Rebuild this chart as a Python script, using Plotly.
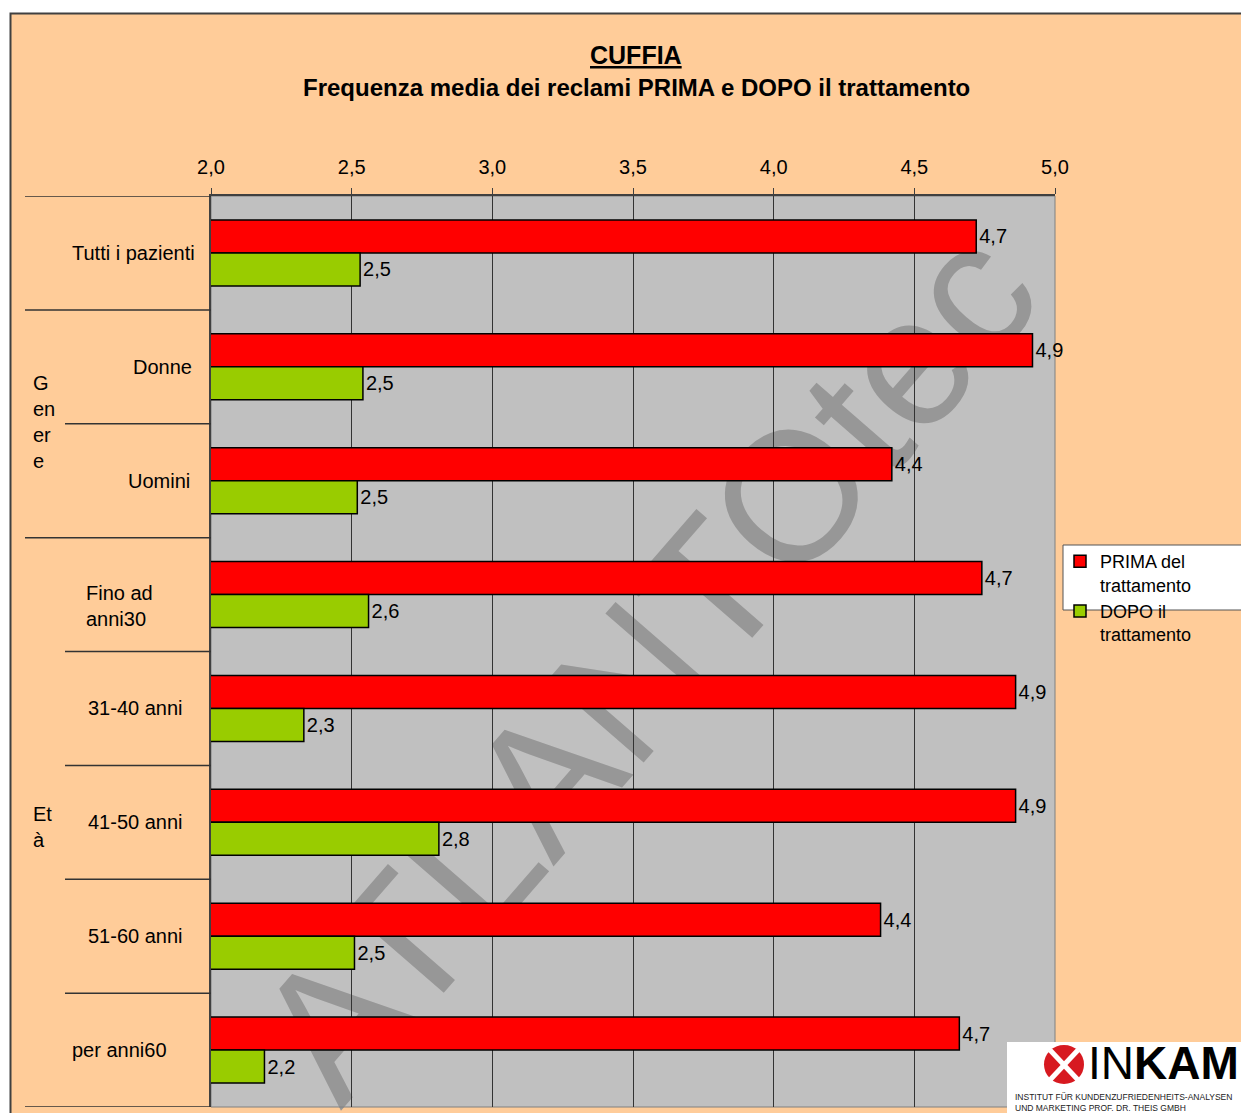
import plotly.graph_objects as go

# ---------------- data ----------------
categories = ["Tutti i pazienti", "Donne", "Uomini", "Fino ad anni30",
              "31-40 anni", "41-50 anni", "51-60 anni", "per anni60"]
category_labels = ["Tutti i pazienti", "Donne", "Uomini", "Fino ad<br>anni30",
                   "31-40 anni", "41-50 anni", "51-60 anni", "per anni60"]
prima = [4.72, 4.92, 4.42, 4.74, 4.86, 4.86, 4.38, 4.66]
dopo = [2.53, 2.54, 2.52, 2.56, 2.33, 2.81, 2.51, 2.19]
series_names = ["PRIMA del<br>trattamento", "DOPO il<br>trattamento"]
tick_values = [2.0, 2.5, 3.0, 3.5, 4.0, 4.5, 5.0]
group_labels = ["G<br>en<br>er<br>e", "Et<br>à"]
title_text = "CUFFIA"
subtitle_text = "Frequenza media dei reclami PRIMA e DOPO il trattamento"
watermark_text = "ATLANTOtec"

# ---------------- geometry helpers (page pixel -> paper) ----------------
BODY = 8                      # default page margin around the plot div
PAGE_W, PAGE_H = 1249, 1113
W, H = PAGE_W - BODY, PAGE_H - BODY
PL, PR, PT, PB = 211, 1055, 196, 1107   # plot area in page pixels


def px(x):
    return (x - PL) / (PR - PL)


def py(y):
    return (PB - y) / (PB - PT)


FONT = "Liberation Sans, Arial, sans-serif"
ORANGE = "#FFCC99"
GRAY_BG = "#C0C0C0"
RED = "#FF0000"
GREEN = "#99CC00"
DARK = "#333333"

fig = go.Figure()
fig.add_trace(go.Bar(
    y=categories, x=prima, orientation="h", name=series_names[0],
    marker=dict(color=RED, line=dict(color="black", width=1.5)),
    texttemplate="%{x:.1f}", textposition="outside", cliponaxis=False,
    constraintext="none", textfont=dict(size=20, color="black", family=FONT),
))
fig.add_trace(go.Bar(
    y=categories, x=dopo, orientation="h", name=series_names[1],
    marker=dict(color=GREEN, line=dict(color="black", width=1.5)),
    texttemplate="%{x:.1f}", textposition="outside", cliponaxis=False,
    constraintext="none", textfont=dict(size=20, color="black", family=FONT),
))

shapes = []
# watermark below everything inside the plot
shapes.append(dict(
    type="rect", xref="paper", yref="paper", x0=0, x1=1, y0=0, y1=1,
    line=dict(width=0), fillcolor="rgba(0,0,0,0)", layer="below",
    label=dict(text=watermark_text, textangle=-49, textposition="middle center",
               font=dict(size=184, color="#979797", family=FONT)),
))
# plot area border (right/bottom in gray)
shapes.append(dict(type="rect", xref="paper", yref="paper", x0=0, x1=1, y0=0, y1=1,
                   line=dict(color="#808080", width=1), fillcolor="rgba(0,0,0,0)", layer="below"))
# left-column separators
full_boundaries = [-0.5, 0.5, 2.5, 7.5]
inner_boundaries = [1.5, 3.5, 4.5, 5.5, 6.5]
for b in full_boundaries:
    shapes.append(dict(type="line", xref="paper", yref="y", x0=px(25), x1=0, y0=b, y1=b,
                       line=dict(color=DARK, width=1.5), layer="above"))
for b in inner_boundaries:
    shapes.append(dict(type="line", xref="paper", yref="y", x0=px(65), x1=0, y0=b, y1=b,
                       line=dict(color=DARK, width=1.5), layer="above"))
# legend white box
shapes.append(dict(type="rect", xref="paper", yref="paper", x0=px(1063), x1=px(1265),
                   y0=py(610), y1=py(545), fillcolor="white",
                   line=dict(color="#555555", width=1), layer="below"))
# white page strips outside the orange frame
shapes.append(dict(type="rect", xref="paper", yref="paper", x0=px(-5), x1=px(1260),
                   y0=py(13), y1=py(-5), fillcolor="white", line=dict(width=0), layer="above"))
shapes.append(dict(type="rect", xref="paper", yref="paper", x0=px(-5), x1=px(10),
                   y0=py(1120), y1=py(-5), fillcolor="white", line=dict(width=0), layer="above"))
# frame border
shapes.append(dict(type="rect", xref="paper", yref="paper", x0=px(10.5), x1=px(1275),
                   y0=py(1130), y1=py(13.5), fillcolor="rgba(0,0,0,0)",
                   line=dict(color="#404040", width=2), layer="above"))
# INKAM logo box
shapes.append(dict(type="rect", xref="paper", yref="paper", x0=px(1007), x1=px(1260),
                   y0=py(1120), y1=py(1042), fillcolor="white", line=dict(width=0), layer="above"))
shapes.append(dict(type="circle", xref="paper", yref="paper", x0=px(1044), x1=px(1084),
                   y0=py(1084), y1=py(1045), fillcolor="#D71920", line=dict(width=0), layer="above"))
shapes.append(dict(type="line", xref="paper", yref="paper", x0=px(1050), x1=px(1078),
                   y0=py(1050), y1=py(1080), line=dict(color="white", width=5), layer="above"))
shapes.append(dict(type="line", xref="paper", yref="paper", x0=px(1078), x1=px(1050),
                   y0=py(1050), y1=py(1080), line=dict(color="white", width=5), layer="above"))

annotations = []
# titles
annotations.append(dict(text="<b><u>" + title_text + "</u></b>", xref="paper", yref="paper",
                        x=px(636), y=py(55), xanchor="center", yanchor="middle", showarrow=False,
                        font=dict(size=25, color="black", family=FONT)))
annotations.append(dict(text="<b>" + subtitle_text + "</b>", xref="paper", yref="paper",
                        x=px(636), y=py(87), xanchor="center", yanchor="middle", showarrow=False,
                        font=dict(size=24, color="black", family=FONT)))
# category labels
label_left = [70, 131, 126, 84, 86, 86, 86, 70]
label_shift = [0, 0, 0, -11, 0, 0, 0, 0]
for cat, lab, lx, ls in zip(categories, category_labels, label_left, label_shift):
    annotations.append(dict(text=lab, xref="paper", yref="y", x=px(lx), y=cat, yshift=ls,
                            xanchor="left", yanchor="middle", align="left", showarrow=False,
                            font=dict(size=20, color="black", family=FONT)))
# group labels
group_pos = [1.5, 5.0]
group_shift = [2, -5]
for lab, gy, gs in zip(group_labels, group_pos, group_shift):
    annotations.append(dict(text=lab, xref="paper", yref="y", x=px(31), y=gy, yshift=gs,
                            xanchor="left", yanchor="middle", align="left", showarrow=False,
                            font=dict(size=20, color="black", family=FONT)))
# INKAM logo text
annotations.append(dict(text="IN<b>KAM</b>", xref="paper", yref="paper", x=px(1086), y=py(1063),
                        xanchor="left", yanchor="middle", showarrow=False,
                        font=dict(size=46, color="black", family=FONT)))
annotations.append(dict(text="INSTITUT FÜR KUNDENZUFRIEDENHEITS-ANALYSEN<br>UND MARKETING PROF. DR. THEIS GMBH",
                        xref="paper", yref="paper", x=px(1013), y=py(1102),
                        xanchor="left", yanchor="middle", align="left", showarrow=False,
                        font=dict(size=8.5, color="#222222", family=FONT)))

fig.update_layout(
    width=W, height=H,
    margin=dict(l=PL - BODY, r=PAGE_W - PR, t=PT - BODY, b=PAGE_H - PB, pad=0),
    paper_bgcolor=ORANGE, plot_bgcolor=GRAY_BG,
    separators=",.",
    barmode="group", bargap=0.42, bargroupgap=0,
    font=dict(family=FONT, color="black"),
    showlegend=True,
    legend=dict(x=px(1060), y=py(543), xanchor="left", yanchor="top",
                bgcolor="rgba(0,0,0,0)", borderwidth=0, traceorder="normal",
                valign="top", font=dict(size=18, color="black", family=FONT),
                tracegroupgap=0),
    shapes=shapes, annotations=annotations,
)
fig.update_xaxes(
    side="top", range=[2, 5], tickvals=tick_values, tickformat=".1f",
    showgrid=True, gridcolor=DARK, gridwidth=1, zeroline=False,
    showline=True, linecolor="#404040", linewidth=2,
    ticks="outside", ticklen=6, tickcolor="#404040", ticklabelstandoff=6,
    tickfont=dict(size=20, color="black", family=FONT),
)
fig.update_yaxes(
    range=[7.5, -0.5], showticklabels=False, showgrid=False, zeroline=False,
    showline=True, linecolor="#404040", linewidth=1.5, ticks="",
)

fig.write_html("out.html")
